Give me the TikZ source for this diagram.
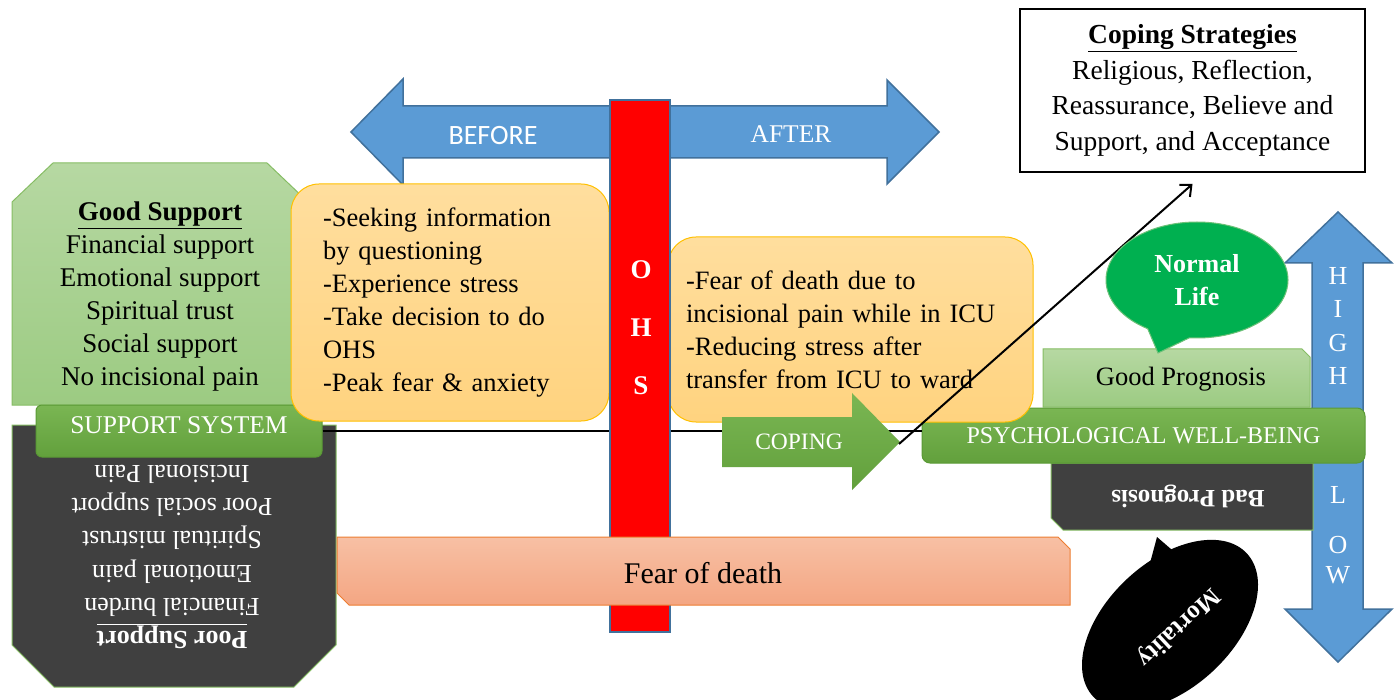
\documentclass[tikz,border=0pt]{standalone}
\usepackage{fontspec}
\setmainfont{Liberation Serif}
\newfontfamily\calibri{Carlito}
\usepackage{tikz}
\usetikzlibrary{arrows.meta,positioning,shapes.callouts}
\definecolor{arrowblue}{HTML}{5B9BD5}
\definecolor{arrowedge}{HTML}{41719C}
\definecolor{leaf}{HTML}{70AD47}
\definecolor{leafdark}{HTML}{5A9A35}
\definecolor{leaftop}{HTML}{B6D8A2}
\definecolor{leafbot}{HTML}{9CCB82}
\definecolor{leafedge}{HTML}{86BD64}
\definecolor{copetop}{HTML}{7AB653}
\definecolor{copebot}{HTML}{62A03C}
\definecolor{charcoal}{HTML}{404040}
\definecolor{notetop}{HTML}{FFDE9E}
\definecolor{notebot}{HTML}{FFD37F}
\definecolor{noteedge}{HTML}{FFC000}
\definecolor{feartop}{HTML}{F7C0A4}
\definecolor{fearbot}{HTML}{F4A683}
\definecolor{fearedge}{HTML}{ED7D31}
\definecolor{lifegreen}{HTML}{00B050}
\definecolor{lifeedge}{HTML}{6CC177}

\begin{document}
\begin{tikzpicture}[x=1pt, y=-1pt,
    every node/.style={font=\fontsize{26.5}{33}\selectfont, inner sep=0pt},
    blockarrow/.style={fill=arrowblue, draw=arrowedge, line width=1.5pt},
    notebox/.style={rectangle, rounded corners=28pt, top color=notetop, bottom color=notebot,
        draw=noteedge, line width=1pt, align=left},
    greenbox/.style={top color=leaftop, bottom color=leafbot, draw=leafedge, line width=1pt},
    darkbox/.style={fill=charcoal, draw=leafedge, line width=1pt},
    barbox/.style={rectangle, top color=copetop, bottom color=copebot, draw=leafdark,
        line width=1pt, text=white}]
    \fill[white] (0,0) rectangle (1400,700);
    \useasboundingbox (0,0) rectangle (1400,700);

    % before / after
    \path[blockarrow] (351,132) -- (403,79) -- (403,106) -- (887,106) -- (887,80) -- (939,132)
        -- (887,184) -- (887,158) -- (403,158) -- (403,185) -- cycle;
    \node[text=white, font=\calibri\fontsize{28}{28}\selectfont] (before) at (493,136) {BEFORE};
    \node[text=white, font=\fontsize{25.5}{26}\selectfont] (after) at (791,134) {AFTER};

    % high / low
    \path[blockarrow] (1338,212) -- (1392,263) -- (1363,263) -- (1363,609) -- (1392,609)
        -- (1338,662) -- (1285,609) -- (1312,609) -- (1312,263) -- (1285,263) -- cycle;
    \node[text=white, align=center, font=\fontsize{26}{33.5}\selectfont] (high) at (1338,326) {H\\I\\G\\H};
    \node[text=white, align=center, font=\fontsize{26}{30}\selectfont] (low) at (1338,535) {L\\[20pt]O\\W};

    % prognosis
    \path[greenbox] (1043,349) -- (1302,349) -- (1310,357) -- (1310,407) -- (1043,407) -- cycle;
    \node (goodprog) at (1181,379) {Good Prognosis};
    \path[darkbox] (1051,463) -- (1313,463) -- (1313,530) -- (1063,530) -- (1051,518) -- cycle;
    \node[rotate=180, text=white, font=\bfseries\fontsize{25}{25}\selectfont] (badprog) at (1188,496) {Bad Prognosis};
    \node[barbox, rounded corners=8pt, minimum width=443pt, minimum height=55pt,
        font=\fontsize{24}{24}\selectfont] (psych) at (1143.5,435.5) {PSYCHOLOGICAL WELL-BEING};

    % support system
    \path[greenbox] (12,202) -- (53,163) -- (267,163) -- (308,202) -- (308,405) -- (12,405) -- cycle;
    \node[align=center, font=\fontsize{27}{33}\selectfont] (good) at (160,297) {\underline{\textbf{Good Support}}\\Financial support\\
        Emotional support\\Spiritual trust\\Social support\\No incisional pain};
    \path[darkbox] (12,425) -- (336,425) -- (336,645) -- (294,687) -- (54,687) -- (12,645) -- cycle;
    \node[rotate=180, text=white, align=center, font=\fontsize{26}{33.2}\selectfont] (poor) at (172,557)
        {\underline{\textbf{Poor Support}}\\Financial burden\\Emotional pain\\Spiritual mistrust\\
        Poor social support\\Incisional Pain};
    \node[barbox, rounded corners=6pt, minimum width=286pt, minimum height=52pt, text depth=12pt,
        font=\fontsize{25.5}{26}\selectfont] (sys) at (179,431) {SUPPORT SYSTEM};
    \draw[line width=2pt] (sys.east) -- (sys.east -| psych.west);

    % notes
    \node[notebox, text width=254pt, inner xsep=32pt, minimum height=237pt] (prenote) at (450,302.5)
        {-Seeking information\\by questioning\\-Experience stress\\-Take decision to do\\OHS\\-Peak fear \& anxiety};
    \node[notebox, text width=329pt, inner xsep=18pt, minimum height=185pt] (postnote) at (850.5,329.5)
        {-Fear of death due to\\incisional pain while in ICU\\-Reducing stress after\\transfer from ICU to ward};

    % OHS
    \path[fill=red, draw=arrowedge, line width=1.5pt] (610,100) rectangle (670,632);
    \node[text=white, align=center, font=\bfseries\fontsize{27}{58}\selectfont] (ohs) at (641,328) {O\\H\\S};

    \path[top color=feartop, bottom color=fearbot, draw=fearedge, line width=1pt]
        (337,537) -- (1058,537) -- (1070,549) -- (1070,605) -- (349,605) -- (337,593) -- cycle;
    \node[font=\fontsize{30}{30}\selectfont] (fear) at (703,573) {Fear of death};

    % coping
    \path[top color=copetop, bottom color=copebot] (722,417) -- (852,417) -- (852,393) -- (900,442)
        -- (852,490) -- (852,467) -- (722,467) -- cycle;
    \node[text=white, font=\fontsize{23.5}{24}\selectfont] (cope) at (799,442) {COPING};
    \coordinate (copetip) at (899,444);

    \node[draw, line width=2pt, fill=white, minimum width=345pt, minimum height=163pt, align=center,
        font=\fontsize{27.5}{35.7}\selectfont] (strat) at (1192.5,90.5)
        {\underline{\textbf{Coping Strategies}}\\Religious, Reflection,\\Reassurance, Believe and\\Support, and Acceptance};
    \draw[line width=2pt, -{Straight Barb[length=9pt, width=16pt]}] (copetip) -- ([yshift=-11pt]strat.south);

    % outcomes
    \node[ellipse callout, fill=lifegreen, draw=lifeedge, line width=1pt, minimum width=182pt,
        minimum height=116pt, callout absolute pointer={(1158,353)}, callout pointer arc=28,
        text=white, align=center, font=\bfseries\fontsize{26}{33}\selectfont] (life) at (1197,280) {Normal\\Life};
    \fill[black, rotate around={43:(1170,625)}] (1170,625) ellipse [x radius=105pt, y radius=63pt];
    \fill[black] (1146,578) -- (1157,537) -- (1186,562) -- cycle;
    \node[rotate=223, text=white, font=\bfseries\fontsize{25}{25}\selectfont] (mort) at (1178,627) {Mortality};
\end{tikzpicture}
\end{document}
